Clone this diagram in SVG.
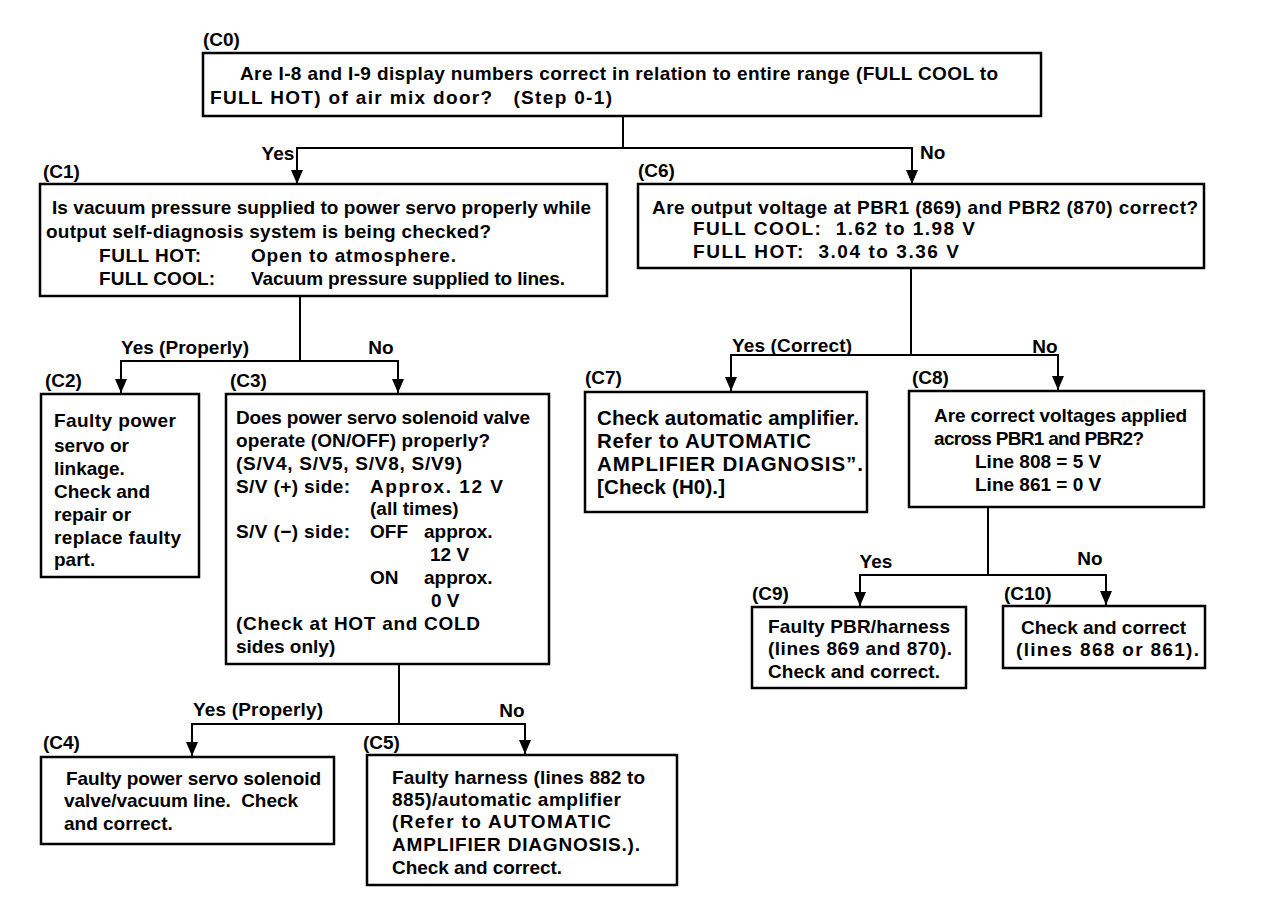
<svg xmlns="http://www.w3.org/2000/svg" width="1264" height="898" viewBox="0 0 1264 898">
<style>
text{font-family:"Liberation Sans",Arial,sans-serif;font-weight:bold;font-size:19px;fill:#000}
.box{fill:#fff;stroke:#000;stroke-width:2.5}
.con{fill:none;stroke:#000;stroke-width:2}
.lbl{text-anchor:middle}
.wide{font-size:20.5px}
</style>
<defs>
<marker id="arr" markerUnits="userSpaceOnUse" markerWidth="14" markerHeight="12" refX="14" refY="6" orient="auto">
<path d="M0,0 L14,6 L0,12 z" fill="#000"/>
</marker>
</defs>
<rect width="1264" height="898" fill="#fff"/>
<g id="connectors">
<path class="con" d="M623,117 V148 H297 V184" marker-end="url(#arr)"/>
<path class="con" d="M623,148 H912 V184" marker-end="url(#arr)"/>
<path class="con" d="M300,296 V361 H121 V393" marker-end="url(#arr)"/>
<path class="con" d="M300,361 H398 V393" marker-end="url(#arr)"/>
<path class="con" d="M399,664 V724 H192 V756" marker-end="url(#arr)"/>
<path class="con" d="M399,724 H525 V754" marker-end="url(#arr)"/>
<path class="con" d="M911,268 V355 H731 V391" marker-end="url(#arr)"/>
<path class="con" d="M911,355 H1058 V390" marker-end="url(#arr)"/>
<path class="con" d="M988,507 V575 H860 V606" marker-end="url(#arr)"/>
<path class="con" d="M988,575 H1106 V605" marker-end="url(#arr)"/>
<text class="lbl" x="278" y="160">Yes</text>
<text x="920" y="159">No</text>
<text class="lbl" x="185" y="354" textLength="128">Yes (Properly)</text>
<text class="lbl" x="381" y="354">No</text>
<text class="lbl" x="258" y="716" textLength="130">Yes (Properly)</text>
<text class="lbl" x="512" y="717">No</text>
<text class="lbl" x="792" y="352" textLength="120">Yes (Correct)</text>
<text class="lbl" x="1045" y="353">No</text>
<text class="lbl" x="876" y="568">Yes</text>
<text class="lbl" x="1090" y="565">No</text>
</g>
<g id="C0">
<text x="203" y="46">(C0)</text>
<rect class="box" x="203" y="53" width="838" height="63"/>
<text x="240" y="80" textLength="758">Are I-8 and I-9 display numbers correct in relation to entire range (FULL COOL to</text>
<text x="210" y="104" xml:space="preserve" textLength="402">FULL HOT) of air mix door?   (Step 0-1)</text>
</g>
<g id="C1">
<text x="43" y="178">(C1)</text>
<rect class="box" x="40" y="184" width="567" height="112"/>
<text x="52" y="214" textLength="539">Is vacuum pressure supplied to power servo properly while</text>
<text x="46" y="238" textLength="445">output self-diagnosis system is being checked?</text>
<text x="99" y="262" textLength="102">FULL HOT:</text>
<text x="251" y="262" textLength="205">Open to atmosphere.</text>
<text x="99" y="285" textLength="116">FULL COOL:</text>
<text x="251" y="285" textLength="314">Vacuum pressure supplied to lines.</text>
</g>
<g id="C2">
<text x="45" y="387">(C2)</text>
<rect class="box" x="41" y="394" width="158" height="183"/>
<text x="54" y="427" textLength="122">Faulty power</text>
<text x="54" y="452">servo or</text>
<text x="54" y="475">linkage.</text>
<text x="54" y="498">Check and</text>
<text x="54" y="521">repair or</text>
<text x="54" y="544" textLength="127">replace faulty</text>
<text x="54" y="566">part.</text>
</g>
<g id="C3">
<text x="230" y="387">(C3)</text>
<rect class="box" x="226" y="394" width="323" height="270"/>
<text x="236" y="424" textLength="294">Does power servo solenoid valve</text>
<text x="236" y="447" textLength="254">operate (ON/OFF) properly?</text>
<text x="236" y="470" textLength="226">(S/V4, S/V5, S/V8, S/V9)</text>
<text x="236" y="493" textLength="114">S/V (+) side:</text>
<text x="370" y="493" textLength="133">Approx. 12 V</text>
<text x="370" y="515">(all times)</text>
<text x="236" y="538" textLength="114">S/V (−) side:</text>
<text x="370" y="538">OFF</text>
<text x="424" y="538">approx.</text>
<text x="430" y="561">12 V</text>
<text x="370" y="584">ON</text>
<text x="424" y="584">approx.</text>
<text x="431" y="607">0 V</text>
<text x="236" y="630" textLength="244">(Check at HOT and COLD</text>
<text x="236" y="653">sides only)</text>
</g>
<g id="C4">
<text x="43" y="749">(C4)</text>
<rect class="box" x="41" y="757" width="293" height="87"/>
<text x="66" y="785" textLength="255">Faulty power servo solenoid</text>
<text x="64" y="807" xml:space="preserve" textLength="234">valve/vacuum line.  Check</text>
<text x="64" y="830">and correct.</text>
</g>
<g id="C5">
<text x="363" y="749">(C5)</text>
<rect class="box" x="367" y="755" width="310" height="130"/>
<text x="392" y="784" textLength="253">Faulty harness (lines 882 to</text>
<text x="392" y="806" textLength="229">885)/automatic amplifier</text>
<text x="392" y="828" textLength="219">(Refer to AUTOMATIC</text>
<text x="392" y="851" textLength="248">AMPLIFIER DIAGNOSIS.).</text>
<text x="392" y="874" textLength="170">Check and correct.</text>
</g>
<g id="C6">
<text x="638" y="177">(C6)</text>
<rect class="box" x="638" y="184" width="566" height="84"/>
<text x="652" y="214" textLength="546">Are output voltage at PBR1 (869) and PBR2 (870) correct?</text>
<text x="693" y="235" xml:space="preserve" textLength="282">FULL COOL:  1.62 to 1.98 V</text>
<text x="693" y="258" xml:space="preserve" textLength="266">FULL HOT:  3.04 to 3.36 V</text>
</g>
<g id="C7">
<text x="585" y="384">(C7)</text>
<rect class="box" x="585" y="392" width="282" height="120"/>
<text class="wide" x="597" y="425" textLength="262">Check automatic amplifier.</text>
<text class="wide" x="597" y="448" textLength="214">Refer to AUTOMATIC</text>
<text class="wide" x="597" y="471" textLength="266">AMPLIFIER DIAGNOSIS”.</text>
<text class="wide" x="597" y="494" textLength="128">[Check (H0).]</text>
</g>
<g id="C8">
<text x="912" y="384">(C8)</text>
<rect class="box" x="909" y="391" width="295" height="116"/>
<text x="934" y="422" textLength="253">Are correct voltages applied</text>
<text x="934" y="445" textLength="210">across PBR1 and PBR2?</text>
<text x="975" y="468">Line 808 = 5 V</text>
<text x="975" y="491">Line 861 = 0 V</text>
</g>
<g id="C9">
<text x="752" y="600">(C9)</text>
<rect class="box" x="752" y="607" width="214" height="81"/>
<text x="768" y="633" textLength="182">Faulty PBR/harness</text>
<text x="768" y="655" textLength="184">(lines 869 and 870).</text>
<text x="768" y="678" textLength="172">Check and correct.</text>
</g>
<g id="C10">
<text x="1004" y="600">(C10)</text>
<rect class="box" x="1003" y="606" width="202" height="62"/>
<text x="1021" y="634" textLength="165">Check and correct</text>
<text x="1016" y="656" textLength="183">(lines 868 or 861).</text>
</g>
</svg>
